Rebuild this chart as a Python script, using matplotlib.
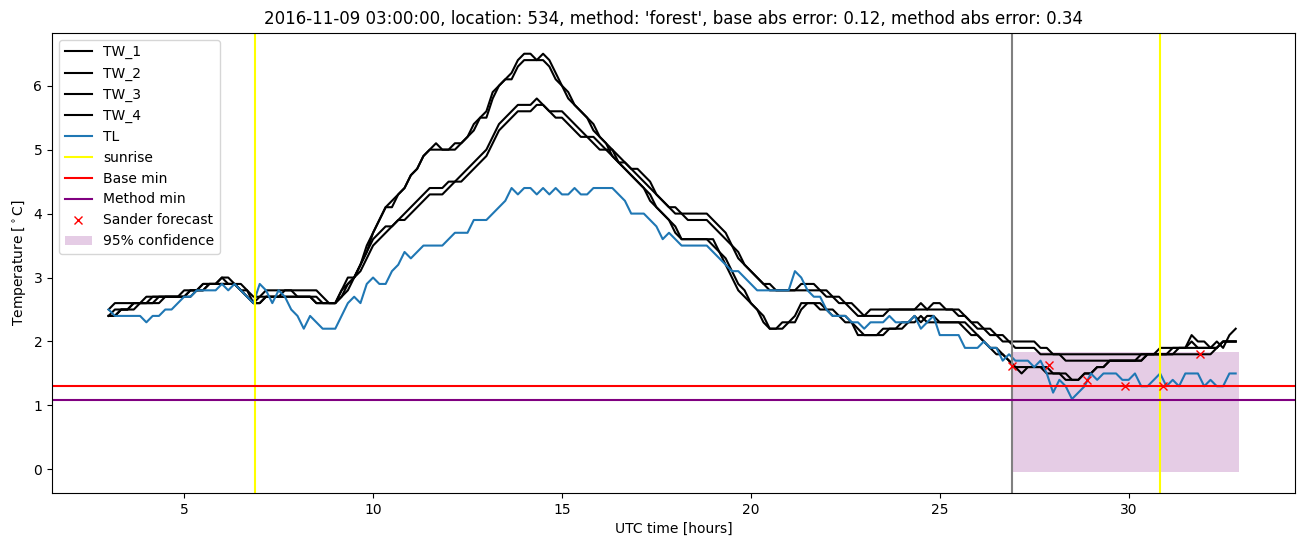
import numpy as np
import matplotlib
matplotlib.use("Agg")
import matplotlib.pyplot as plt

# 10 minute steps from 03:00 to 32:50 (hours since 2016-11-09 00:00 UTC)
hours = np.arange(180) / 6 + 3

# one row per hour
tw_1 = [2.4, 2.5, 2.5, 2.5, 2.6, 2.6,
        2.6, 2.7, 2.7, 2.7, 2.7, 2.7,
        2.7, 2.8, 2.8, 2.9, 2.9, 2.9,
        3.0, 2.9, 2.9, 2.8, 2.7, 2.6,
        2.7, 2.7, 2.7, 2.7, 2.7, 2.7,
        2.7, 2.7, 2.7, 2.6, 2.6, 2.6,
        2.6, 2.8, 3.0, 3.0, 3.2, 3.5,
        3.7, 3.9, 4.1, 4.2, 4.3, 4.4,
        4.6, 4.7, 4.9, 5.0, 5.1, 5.0,
        5.0, 5.1, 5.1, 5.2, 5.4, 5.5,
        5.6, 5.9, 6.0, 6.1, 6.2, 6.4,
        6.5, 6.5, 6.4, 6.4, 6.3, 6.1,
        6.0, 5.8, 5.7, 5.6, 5.5, 5.3,
        5.2, 5.1, 4.9, 4.8, 4.7, 4.6,
        4.5, 4.4, 4.2, 4.1, 4.0, 3.9,
        3.7, 3.6, 3.6, 3.6, 3.6, 3.6,
        3.5, 3.4, 3.2, 3.0, 2.8, 2.7,
        2.6, 2.5, 2.3, 2.2, 2.2, 2.3,
        2.3, 2.4, 2.6, 2.6, 2.6, 2.5,
        2.5, 2.4, 2.4, 2.3, 2.3, 2.1,
        2.1, 2.1, 2.1, 2.2, 2.2, 2.2,
        2.3, 2.3, 2.4, 2.3, 2.4, 2.4,
        2.3, 2.3, 2.3, 2.3, 2.3, 2.2,
        2.1, 2.0, 1.9, 1.9, 1.8, 1.7,
        1.6, 1.5, 1.6, 1.6, 1.6, 1.6,
        1.5, 1.5, 1.4, 1.4, 1.4, 1.5,
        1.5, 1.6, 1.6, 1.7, 1.7, 1.7,
        1.7, 1.7, 1.7, 1.8, 1.8, 1.8,
        1.8, 1.9, 1.9, 1.9, 2.1, 2.0,
        2.0, 1.9, 2.0, 1.9, 2.1, 2.2]

tw_2 = [2.4, 2.4, 2.5, 2.5, 2.5, 2.6,
        2.6, 2.6, 2.6, 2.7, 2.7, 2.7,
        2.7, 2.7, 2.8, 2.8, 2.9, 2.9,
        2.9, 2.9, 2.9, 2.8, 2.7, 2.6,
        2.6, 2.7, 2.7, 2.7, 2.7, 2.7,
        2.7, 2.7, 2.7, 2.7, 2.6, 2.6,
        2.6, 2.7, 2.9, 3.0, 3.2, 3.4,
        3.7, 3.9, 4.1, 4.1, 4.3, 4.4,
        4.6, 4.7, 4.9, 5.0, 5.0, 5.0,
        5.0, 5.0, 5.1, 5.2, 5.3, 5.5,
        5.5, 5.8, 6.0, 6.1, 6.1, 6.3,
        6.4, 6.4, 6.4, 6.5, 6.4, 6.2,
        6.0, 5.9, 5.7, 5.6, 5.5, 5.4,
        5.2, 5.1, 5.0, 4.8, 4.7, 4.6,
        4.5, 4.4, 4.3, 4.1, 4.0, 3.9,
        3.8, 3.6, 3.6, 3.6, 3.6, 3.6,
        3.6, 3.4, 3.3, 3.1, 2.9, 2.8,
        2.6, 2.5, 2.4, 2.2, 2.2, 2.2,
        2.3, 2.3, 2.5, 2.6, 2.6, 2.6,
        2.5, 2.5, 2.4, 2.4, 2.3, 2.2,
        2.1, 2.1, 2.1, 2.1, 2.2, 2.2,
        2.2, 2.3, 2.3, 2.4, 2.3, 2.3,
        2.3, 2.3, 2.3, 2.3, 2.2, 2.1,
        2.1, 2.0, 1.9, 1.8, 1.8, 1.7,
        1.6, 1.6, 1.6, 1.6, 1.6, 1.5,
        1.5, 1.5, 1.5, 1.4, 1.4, 1.5,
        1.5, 1.6, 1.6, 1.7, 1.7, 1.7,
        1.7, 1.7, 1.8, 1.8, 1.8, 1.8,
        1.8, 1.8, 1.9, 1.9, 2.0, 1.9,
        1.9, 1.9, 1.9, 2.0, 2.0, 2.0]

tw_3 = [2.5, 2.6, 2.6, 2.6, 2.6, 2.6,
        2.7, 2.7, 2.7, 2.7, 2.7, 2.7,
        2.8, 2.8, 2.8, 2.9, 2.9, 2.9,
        3.0, 3.0, 2.9, 2.9, 2.8, 2.7,
        2.7, 2.8, 2.8, 2.8, 2.8, 2.8,
        2.8, 2.8, 2.8, 2.8, 2.7, 2.6,
        2.6, 2.8, 2.9, 3.0, 3.2, 3.4,
        3.6, 3.7, 3.8, 3.8, 3.9, 4.0,
        4.1, 4.2, 4.3, 4.4, 4.4, 4.4,
        4.5, 4.5, 4.6, 4.7, 4.8, 4.9,
        5.0, 5.2, 5.4, 5.5, 5.6, 5.7,
        5.7, 5.7, 5.8, 5.7, 5.6, 5.6,
        5.6, 5.5, 5.4, 5.3, 5.2, 5.2,
        5.1, 5.0, 5.0, 4.9, 4.8, 4.7,
        4.7, 4.6, 4.5, 4.3, 4.2, 4.1,
        4.1, 4.0, 4.0, 4.0, 4.0, 4.0,
        3.9, 3.8, 3.7, 3.5, 3.4, 3.2,
        3.1, 3.0, 2.9, 2.9, 2.8, 2.8,
        2.8, 2.8, 2.9, 2.9, 2.9, 2.8,
        2.8, 2.7, 2.7, 2.6, 2.6, 2.5,
        2.4, 2.5, 2.5, 2.5, 2.5, 2.5,
        2.5, 2.5, 2.5, 2.6, 2.5, 2.6,
        2.6, 2.5, 2.5, 2.5, 2.4, 2.3,
        2.2, 2.2, 2.2, 2.1, 2.1, 2.0,
        2.0, 2.0, 2.0, 2.0, 1.9, 1.9,
        1.8, 1.8, 1.8, 1.8, 1.8, 1.8,
        1.8, 1.8, 1.8, 1.8, 1.8, 1.8,
        1.8, 1.8, 1.8, 1.8, 1.8, 1.9,
        1.9, 1.9, 1.9, 1.9, 1.9, 1.9,
        1.9, 1.9, 1.9, 2.0, 2.0, 2.0]

tw_4 = [2.4, 2.4, 2.5, 2.5, 2.6, 2.6,
        2.6, 2.6, 2.7, 2.7, 2.7, 2.7,
        2.7, 2.8, 2.8, 2.8, 2.9, 2.9,
        2.9, 2.9, 2.9, 2.8, 2.8, 2.6,
        2.6, 2.7, 2.7, 2.7, 2.8, 2.8,
        2.7, 2.7, 2.7, 2.6, 2.6, 2.6,
        2.6, 2.7, 2.8, 3.0, 3.1, 3.3,
        3.5, 3.6, 3.7, 3.8, 3.9, 3.9,
        4.0, 4.1, 4.2, 4.3, 4.3, 4.3,
        4.4, 4.5, 4.5, 4.6, 4.7, 4.8,
        4.9, 5.1, 5.3, 5.4, 5.5, 5.6,
        5.6, 5.6, 5.7, 5.7, 5.6, 5.5,
        5.5, 5.4, 5.3, 5.2, 5.2, 5.1,
        5.0, 5.0, 4.9, 4.8, 4.8, 4.7,
        4.6, 4.5, 4.4, 4.3, 4.2, 4.1,
        4.0, 4.0, 3.9, 3.9, 3.9, 3.9,
        3.8, 3.7, 3.6, 3.5, 3.3, 3.2,
        3.1, 3.0, 2.9, 2.8, 2.8, 2.8,
        2.8, 2.8, 2.8, 2.8, 2.8, 2.8,
        2.7, 2.7, 2.6, 2.6, 2.5, 2.4,
        2.4, 2.4, 2.4, 2.4, 2.5, 2.5,
        2.5, 2.5, 2.5, 2.5, 2.5, 2.5,
        2.5, 2.5, 2.5, 2.4, 2.4, 2.3,
        2.3, 2.2, 2.1, 2.1, 2.0, 2.0,
        1.9, 1.9, 1.9, 1.9, 1.8, 1.8,
        1.8, 1.8, 1.7, 1.7, 1.7, 1.7,
        1.7, 1.7, 1.7, 1.7, 1.7, 1.7,
        1.7, 1.7, 1.7, 1.8, 1.8, 1.8,
        1.8, 1.8, 1.8, 1.8, 1.8, 1.8,
        1.8, 1.8, 1.9, 2.0, 2.0, 2.0]

tl = [2.5, 2.4, 2.4, 2.4, 2.4, 2.4,
      2.3, 2.4, 2.4, 2.5, 2.5, 2.6,
      2.7, 2.7, 2.8, 2.8, 2.8, 2.8,
      2.9, 2.8, 2.9, 2.8, 2.7, 2.6,
      2.9, 2.8, 2.6, 2.8, 2.7, 2.5,
      2.4, 2.2, 2.4, 2.3, 2.2, 2.2,
      2.2, 2.4, 2.6, 2.7, 2.6, 2.9,
      3.0, 2.9, 2.9, 3.1, 3.2, 3.4,
      3.3, 3.4, 3.5, 3.5, 3.5, 3.5,
      3.6, 3.7, 3.7, 3.7, 3.9, 3.9,
      3.9, 4.0, 4.1, 4.2, 4.4, 4.3,
      4.4, 4.4, 4.3, 4.4, 4.3, 4.4,
      4.3, 4.3, 4.4, 4.3, 4.3, 4.4,
      4.4, 4.4, 4.4, 4.3, 4.2, 4.0,
      4.0, 4.0, 3.9, 3.8, 3.6, 3.7,
      3.6, 3.5, 3.5, 3.5, 3.5, 3.5,
      3.4, 3.3, 3.2, 3.1, 3.1, 3.0,
      2.9, 2.8, 2.8, 2.8, 2.8, 2.8,
      2.8, 3.1, 3.0, 2.8, 2.7, 2.7,
      2.5, 2.4, 2.4, 2.4, 2.3, 2.3,
      2.2, 2.3, 2.3, 2.3, 2.4, 2.3,
      2.3, 2.3, 2.4, 2.2, 2.3, 2.4,
      2.1, 2.1, 2.1, 2.1, 1.9, 1.9,
      1.9, 2.0, 1.9, 1.9, 1.7, 1.8,
      1.7, 1.7, 1.7, 1.6, 1.7, 1.5,
      1.2, 1.4, 1.3, 1.1, 1.2, 1.3,
      1.5, 1.4, 1.5, 1.5, 1.5, 1.4,
      1.4, 1.5, 1.3, 1.3, 1.4, 1.5,
      1.3, 1.4, 1.3, 1.5, 1.5, 1.5,
      1.3, 1.4, 1.3, 1.3, 1.5, 1.5]

sunrise = [6.87, 30.82]
forecast_start = 26.9
base_min = 1.30
method_min = 1.08

sander_hours = [26.9, 27.9, 28.9, 29.9, 30.9, 31.9]
sander_temp = [1.61, 1.64, 1.40, 1.30, 1.30, 1.80]

conf_hours = [26.9, 32.92]
conf_low = -0.04
conf_high = 1.84

fig, ax = plt.subplots(figsize=(13.02, 5.47), dpi=100)
fig.subplots_adjust(left=0.04, right=0.995, top=0.94, bottom=0.099)

for name, serie in [("TW_1", tw_1), ("TW_2", tw_2), ("TW_3", tw_3), ("TW_4", tw_4)]:
    ax.plot(hours, serie, color="black", label=name)
ax.plot(hours, tl, color="#1f77b4", label="TL")

ax.axvline(sunrise[0], color="yellow", label="sunrise")
ax.axvline(sunrise[1], color="yellow")
ax.axvline(forecast_start, color="gray")
ax.axhline(base_min, color="red", label="Base min")
ax.axhline(method_min, color="purple", label="Method min")
ax.plot(sander_hours, sander_temp, "x", color="red", label="Sander forecast")
ax.fill_between(conf_hours, conf_low, conf_high, color="purple", alpha=0.2,
                linewidth=0, label="95% confidence")

ax.set_title("2016-11-09 03:00:00, location: 534, method: 'forest', "
             "base abs error: 0.12, method abs error: 0.34")
ax.set_xlabel("UTC time [hours]")
ax.set_ylabel(r"Temperature [$^\circ$C]")
ax.legend(loc="upper left")

plt.savefig("out.png")
